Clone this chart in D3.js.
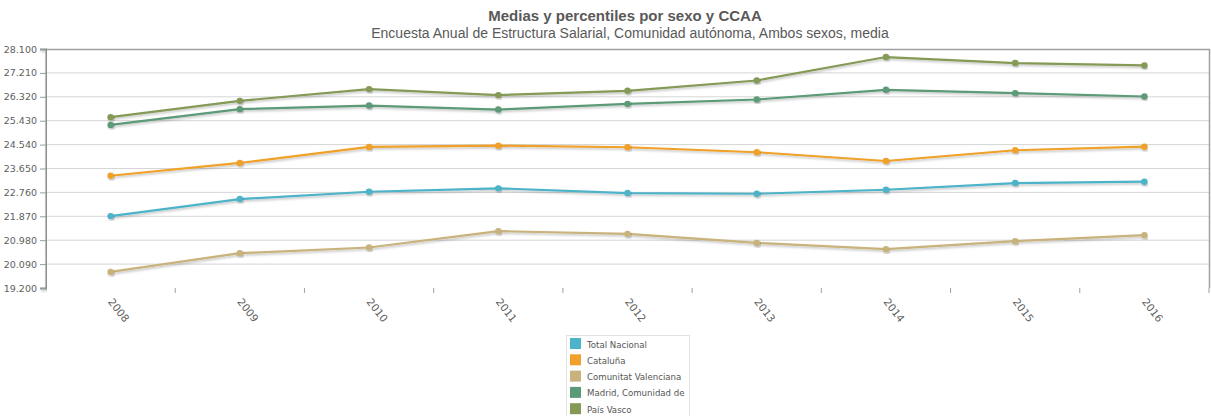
<!DOCTYPE html>
<html>
<head>
<meta charset="utf-8">
<script src="https://cdn.jsdelivr.net/npm/d3@7"></script>
<style>
  html, body { margin: 0; padding: 0; background: #fff; }
  svg { display: block; }
</style>
</head>
<body>
<svg id="chart" width="1211" height="416"></svg>
<script>
// Salary means (EUR) by region, 2008–2016
const years = ["2008", "2009", "2010", "2011", "2012", "2013", "2014", "2015", "2016"];
const seriesNames = ["Total Nacional", "Cataluña", "Comunitat Valenciana", "Madrid, Comunidad de", "País Vasco"];
const totalNacional = [21877, 22512, 22784, 22911, 22736, 22710, 22859, 23109, 23158];
const cataluna      = [23381, 23856, 24453, 24501, 24442, 24255, 23930, 24330, 24464];
const valenciana    = [19798, 20496, 20709, 21317, 21216, 20880, 20645, 20944, 21168];
const madrid        = [25274, 25860, 25995, 25845, 26058, 26219, 26581, 26457, 26331];
const paisVasco     = [25562, 26170, 26607, 26383, 26543, 26928, 27801, 27577, 27488];
const yTicks = [19200, 20090, 20980, 21870, 22760, 23650, 24540, 25430, 26320, 27210, 28100];
const colors = ["#4db3c8", "#f0a12c", "#c9b37c", "#5b9a78", "#849a56"];

const seriesValues = [totalNacional, cataluna, valenciana, madrid, paisVasco];
const series = seriesNames.map((name, i) => ({ name, values: seriesValues[i], color: colors[i] }));

const svg = d3.select("#chart");
const m = { left: 46, right: 1209, top: 49, bottom: 288 };

const x = d3.scaleBand().domain(years).range([m.left, m.right]);
const y = d3.scaleLinear().domain([19200, 28100]).range([m.bottom, m.top]);
const fmt = v => d3.format(",")(v).replace(/,/g, ".");

// drop shadow used under the lines and axes
const defs = svg.append("defs");
const shadow = defs.append("filter").attr("id", "shadow")
  .attr("x", "-5%").attr("y", "-20%").attr("width", "110%").attr("height", "140%");
shadow.append("feDropShadow").attr("dx", 1).attr("dy", 1.5).attr("stdDeviation", 1)
  .attr("flood-color", "#000").attr("flood-opacity", 0.25);

// titles
svg.append("text").attr("x", 625).attr("y", 21).attr("text-anchor", "middle")
  .attr("font-family", "Liberation Sans, Arial, sans-serif").attr("font-size", 15)
  .attr("font-weight", "bold").attr("fill", "#595959")
  .text("Medias y percentiles por sexo y CCAA");
svg.append("text").attr("x", 630).attr("y", 38).attr("text-anchor", "middle")
  .attr("font-family", "Liberation Sans, Arial, sans-serif").attr("font-size", 14)
  .attr("fill", "#595959")
  .text("Encuesta Anual de Estructura Salarial, Comunidad autónoma, Ambos sexos, media");

// grid lines
svg.append("g").selectAll("line").data(yTicks.slice(1, -1)).join("line")
  .attr("x1", m.left).attr("x2", m.right)
  .attr("y1", d => y(d)).attr("y2", d => y(d))
  .attr("stroke", "#d6d6d6").attr("stroke-width", 1);

// plot frame (top and right)
svg.append("path")
  .attr("d", `M${m.left},${m.top + 0.5}H${m.right + 0.5}V${m.bottom}`)
  .attr("fill", "none").attr("stroke", "#a0a0a0").attr("stroke-width", 1.5);

// y axis
const yAxis = svg.append("g").attr("transform", `translate(${m.left},0)`)
  .call(d3.axisLeft(y).tickValues(yTicks).tickFormat(fmt).tickSize(6).tickPadding(3));
yAxis.select(".domain").attr("stroke", "#8c8c8c").attr("stroke-width", 2).attr("filter", "url(#shadow)");
yAxis.selectAll(".tick line").attr("stroke", "#9a9a9a");
yAxis.selectAll("text").attr("font-family", "DejaVu Sans, Verdana, sans-serif")
  .attr("font-size", 9.5).attr("fill", "#606060");

// x axis: ticks on band boundaries
const xAxis = svg.append("g").attr("transform", `translate(0,${m.bottom})`);
xAxis.append("line").attr("x1", m.left).attr("x2", m.right + 1)
  .attr("y1", 0).attr("y2", 0).attr("stroke", "#8c8c8c").attr("stroke-width", 2)
  .attr("filter", "url(#shadow)");
xAxis.selectAll("line.tk").data(years.slice(1)).join("line").attr("class", "tk")
  .attr("x1", d => x(d)).attr("x2", d => x(d)).attr("y1", 0).attr("y2", 5)
  .attr("stroke", "#a0a0a0");
xAxis.append("line").attr("x1", m.right).attr("x2", m.right).attr("y1", 0).attr("y2", 5)
  .attr("stroke", "#a0a0a0");
xAxis.selectAll("text").data(years).join("text")
  .attr("transform", d => `translate(${x(d) + x.bandwidth() / 2 - 3},${14}) rotate(52)`)
  .attr("font-family", "DejaVu Sans, Verdana, sans-serif").attr("font-size", 10.5)
  .attr("fill", "#606060").attr("text-anchor", "start")
  .text(d => d);

// lines and markers
const line = d3.line().x((d, i) => x(years[i]) + x.bandwidth() / 2).y(d => y(d));
const gSeries = svg.append("g").selectAll("g").data(series).join("g");
gSeries.append("path").attr("d", d => line(d.values))
  .attr("fill", "none").attr("stroke", d => d.color).attr("stroke-width", 2.2)
  .attr("filter", "url(#shadow)");
gSeries.selectAll("circle").data(d => d.values.map(v => ({ v, c: d.color }))).join("circle")
  .attr("cx", (d, i) => x(years[i]) + x.bandwidth() / 2).attr("cy", d => y(d.v))
  .attr("r", 3.2).attr("fill", d => d.c).attr("filter", "url(#shadow)");

// legend
const lg = svg.append("g").attr("transform", "translate(566,335)");
lg.append("rect").attr("x", 0.5).attr("y", 0.5).attr("width", 123).attr("height", 90)
  .attr("fill", "#fff").attr("stroke", "#e2e2e2");
const li = lg.selectAll("g").data(series).join("g")
  .attr("transform", (d, i) => `translate(4,${3 + i * 16.3})`);
li.append("rect").attr("width", 11).attr("height", 11).attr("fill", d => d.color);
li.append("text").attr("x", 17).attr("y", 9.5)
  .attr("font-family", "DejaVu Sans, Verdana, sans-serif").attr("font-size", 8.6)
  .attr("fill", "#555").text(d => d.name);
</script>
</body>
</html>
